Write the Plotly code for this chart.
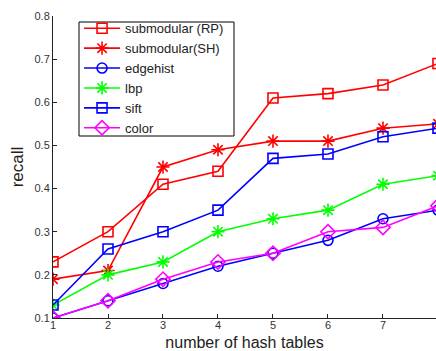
import plotly.graph_objects as go

x_tables = [1, 2, 3, 4, 5, 6, 7, 8]
sub_rp = [0.23, 0.30, 0.41, 0.44, 0.61, 0.62, 0.64, 0.69]
sub_sh = [0.19, 0.21, 0.45, 0.49, 0.51, 0.51, 0.54, 0.55]
edgehist = [0.10, 0.14, 0.18, 0.22, 0.25, 0.28, 0.33, 0.35]
lbp = [0.13, 0.20, 0.23, 0.30, 0.33, 0.35, 0.41, 0.43]
sift = [0.13, 0.26, 0.30, 0.35, 0.47, 0.48, 0.52, 0.54]
color = [0.10, 0.14, 0.19, 0.23, 0.25, 0.30, 0.31, 0.36]

series = [
    ("submodular (RP)", sub_rp, "#ff0000", "square-open", 10),
    ("submodular(SH)", sub_sh, "#ff0000", "asterisk-open", 11),
    ("edgehist", edgehist, "#0000ff", "circle-open", 10),
    ("lbp", lbp, "#00ff00", "asterisk-open", 11),
    ("sift", sift, "#0000ff", "square-open", 10),
    ("color", color, "#ff00ff", "diamond-open", 11),
]

fig = go.Figure()
for name, vals, c, sym, sz in series:
    fig.add_trace(go.Scatter(
        x=x_tables, y=vals, name=name, mode="lines+markers",
        line=dict(color=c, width=1.6),
        marker=dict(symbol=sym, size=sz, color=c, line=dict(color=c, width=1.6)),
    ))

fig.update_layout(
    width=436, height=351,
    margin=dict(l=53, r=0, t=16, b=33, autoexpand=False),
    paper_bgcolor="white", plot_bgcolor="rgba(0,0,0,0)",
    font=dict(family="Arial, Liberation Sans, sans-serif", color="#222"),
    showlegend=True,
    shapes=[dict(type="rect", xref="paper", yref="paper",
                 x0=0.0679, x1=0.4726, y0=0.6026, y1=0.9801,
                 fillcolor="white", line=dict(color="black", width=1),
                 layer="below")],
    legend=dict(
        x=0.068, y=1.009, xanchor="left", yanchor="top",
        bgcolor="rgba(0,0,0,0)", borderwidth=0,
        font=dict(size=13, color="#222"),
        itemwidth=36, tracegroupgap=0,
    ),
    xaxis=dict(
        range=[1, 7.964], tickvals=x_tables, ticktext=[str(v) for v in x_tables],
        showgrid=False, zeroline=False, showline=True, linecolor="#222", linewidth=1,
        ticks="inside", ticklen=4, tickcolor="#222",
        tickfont=dict(size=11, color="#333"), ticklabelstandoff=-3,
        title=dict(text="number of hash tables", font=dict(size=16, color="#222"), standoff=6),
    ),
    yaxis=dict(
        range=[0.1, 0.8], tickvals=[0.1, 0.2, 0.3, 0.4, 0.5, 0.6, 0.7, 0.8],
        ticktext=["0.1", "0.2", "0.3", "0.4", "0.5", "0.6", "0.7", "0.8"],
        showgrid=False, zeroline=False, showline=True, linecolor="#222", linewidth=1,
        ticks="inside", ticklen=4, tickcolor="#222",
        tickfont=dict(size=11, color="#333"),
        title=dict(text="recall", font=dict(size=17, color="#222"), standoff=6),
    ),
)

fig.write_html("out.html")
